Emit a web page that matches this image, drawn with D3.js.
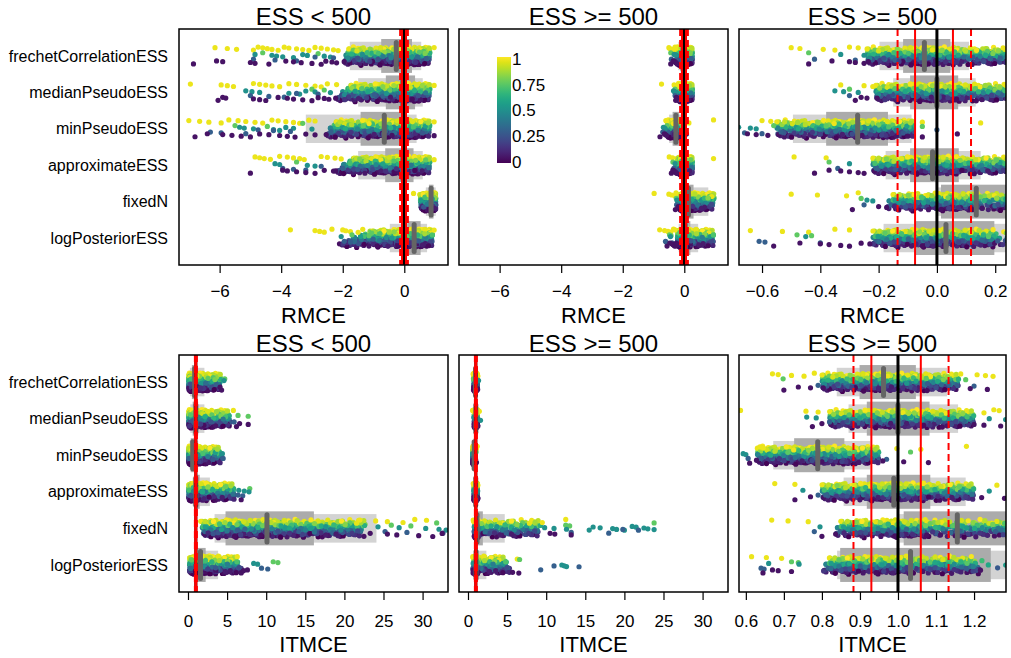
<!DOCTYPE html>
<html><head><meta charset="utf-8">
<script src="https://cdn.jsdelivr.net/npm/d3@7"></script>
<style>body{margin:0;background:#fff} text{font-family:"Liberation Sans",Arial,sans-serif}</style>
</head><body><svg id="c" width="1011" height="658"></svg>
<script>
const rowNames = ["frechetCorrelationESS","medianPseudoESS","minPseudoESS","approximateESS","fixedN","logPosteriorESS"];
// colour level of the sparse tail groups: yellow, green, teal, blue, purple
const tailLevels = [0.97, 0.75, 0.5, 0.3, 0.05];
const legendTicks = [0, 0.25, 0.5, 0.75, 1];

// ---------- RMCE, ESS < 500 ----------
const rmceLowQLo = [[-2.0,-0.9,-0.2,0.35,0.8],[-2.3,-1.0,-0.25,0.35,0.8],[-2.6,-1.3,-0.5,0.2,0.8],[-2.3,-1.1,-0.3,0.3,0.8],[0.55,0.8,0.9,0.96,1.02],[-2.2,-1.0,-0.2,0.4,0.9]];
const rmceLowQHi = [[-1.8,-0.85,-0.2,0.35,0.85],[-1.7,-0.8,-0.2,0.35,0.85],[-2.2,-1.2,-0.5,0.2,0.85],[-1.6,-0.8,-0.2,0.35,0.85],[0.5,0.75,0.88,0.95,1.02],[-1.0,-0.2,0.3,0.6,0.92]];
const rmceLowTails = [
 [[-6.15,-5.75,-5.45,-4.9,-4.75,-4.6,-4.45,-4.3,-4.1,-3.9,-3.75,-3.5,-3.3,-3.1,-2.9,-2.7,-2.5,-2.3,-2.15,0.97],[-4.6,-2.8],[-4.85,-4.3,-4.15,-3.95,-3.6,-3.3,-3.15,-2.6,-2.4],[-4.9,-4.2,-3.5,-2.9,-2.3],[-6.85,-6.1,-5.9,-5.0,-4.85,-4.4,-3.85,-3.6,-3.35,-3.0,-2.7,-2.55,-2.35,-2.2]],
 [[-6.95,-5.95,-5.75,-5.55,-4.9,-4.7,-4.5,-4.3,-4.05,-3.75,-3.5,-3.2,-2.9,-2.7,-2.5,-2.2,0.97],[-3.0,-2.6],[-5.15,-4.95,-4.7,-3.75,-3.4,-3.2,-2.9,-2.4],[-5.0,-4.4,-3.9,-3.5,-2.8],[-6.05,-5.9,-5.8,-4.9,-4.7,-4.5,-4.1,-3.8,-3.6,-3.3,-3.0,-2.8,-2.6,-2.45]],
 [[-7.0,-6.65,-6.35,-5.95,-5.7,-5.4,-5.15,-4.85,-4.6,-4.3,-4.1,-3.85,-3.6,-3.4,-3.1,-2.9,0.97],[-5.5,-4.45,-3.3],[-5.35,-5.2,-4.9,-4.25,-4.05,-3.85,-3.6,-3.0],[-6.3,-5.95,-5.15,-4.75,-4.25,-3.7],[-6.8,-6.4,-5.9,-5.6,-5.3,-5.0,-4.7,-4.4,-4.05,-3.8,-3.55,-3.2,-2.9,0.97]],
 [[-4.85,-4.7,-4.55,-4.35,-4.05,-3.8,-3.6,-3.4,-3.25,-2.7,-2.5,-2.25,-2.05,0.97],[-3.5],[-4.2,-4.05,-3.15,-2.9],[-3.95,-3.6,-3.2,-2.7],[-5.0,-3.95,-3.8,-3.5,-3.2,-2.9,-2.6,-2.3]],
 [[0.3],[],[],[],[]],
 [[-3.7,-2.9,-2.75,-2.6,-2.35,-2.0,-1.9,-1.75,-1.5,-1.35,0.97],[-1.7,-1.15],[-2.05],[-1.95,-1.75],[]]
];
const rmceLowMean = [-0.26,-0.05,-0.65,-0.05,0.87,0.32];
const rmceLowInner = [[-0.75,0.25],[-0.6,0.35],[-1.42,-0.06],[-0.62,0.3],[0.8,0.95],[0.1,0.53]];
const rmceLowOuter = [[-1.77,0.55],[-1.5,0.6],[-3.2,0.4],[-1.5,0.6],[0.7,1.02],[-0.47,0.74]];

// ---------- RMCE, ESS >= 500 ----------
const rmceHighQLo = [[-0.24,-0.1,-0.03,0.06,0.26],[-0.21,-0.07,0.0,0.08,0.26],[-0.55,-0.36,-0.27,-0.18,-0.08],[-0.22,-0.08,-0.01,0.07,0.26],[-0.18,0.0,0.12,0.35,0.9],[-0.22,-0.06,0.03,0.2,0.95]];
const rmceHighQHi = [[-0.24,-0.1,-0.03,0.06,0.26],[-0.21,-0.07,0.0,0.08,0.26],[-0.55,-0.36,-0.27,-0.18,-0.08],[-0.22,-0.08,-0.01,0.07,0.26],[-0.15,0.02,0.15,0.45,1.0],[-0.22,-0.06,0.03,0.2,0.95]];
const rmceHighTails = [
 [[-0.5,-0.47,-0.39,-0.35,-0.3,-0.27],[-0.44],[-0.33,-0.25],[-0.42,-0.28],[-0.44,-0.36,-0.3,-0.28,-0.25]],
 [[-0.74,-0.33,-0.25,-0.22],[-0.3],[-0.35,-0.32,-0.27],[-0.3],[-0.28,-0.26,-0.24]],
 [[-0.6,-0.57,-0.05,0.15,0.95],[-0.56,-0.05],[-0.68,-0.64,-0.62],[-0.7,-0.66,-0.6,0.0],[-0.79,-0.65,-0.62,-0.58,-0.1,-0.05,0.07]],
 [[-0.49,-0.38,0.95],[-0.37],[-0.3],[-0.34],[-0.42,-0.37,-0.33,-0.3,-0.27,-0.25]],
 [[-0.98,-0.5,-0.41,-0.31,-0.27],[-0.26],[-0.24,-0.22],[-0.25],[-0.29,-0.2]],
 [[-0.8,-0.64,-0.53,-0.44,-0.35,-0.3],[-0.48,-0.43],[-0.45],[-0.61,-0.59,-0.4],[-0.56,-0.47,-0.4,-0.37,-0.33,-0.3,-0.26,-0.23]]
];
const rmceHighMean = [-0.043,0.0,-0.272,-0.015,0.135,0.031];
const rmceHighInner = [[-0.116,0.046],[-0.092,0.073],[-0.38,-0.168],[-0.092,0.075],[0.014,0.3],[-0.075,0.197]];
const rmceHighOuter = [[-0.197,0.11],[-0.15,0.133],[-0.494,-0.087],[-0.176,0.15],[0.0,0.78],[-0.183,0.45]];

// ---------- ITMCE, ESS < 500 ----------
const itmceLowQLo = [[0.1,0.55,1.0,1.9,4.0],[0.1,0.6,1.1,2.2,5.5],[0.1,0.45,0.8,1.5,4.2],[0.1,0.7,1.2,2.4,6.0],[2.0,5.5,9.5,15,22],[0.2,1.2,2.2,3.6,7.0]];
const itmceLowQHi = [[0.1,0.6,1.0,1.9,4.3],[0.1,0.6,1.1,2.2,5.2],[0.1,0.45,0.8,1.5,4.0],[0.1,0.7,1.2,2.4,5.8],[1.6,5.5,10,16,23],[0.2,1.1,2.0,3.2,6.0]];
const itmceLowTails = [
 [[],[4.7],[4.6],[],[4.3,4.1]],
 [[5.8],[6.4,7.7],[],[5.9],[6.2,6.6,7.7]],
 [[],[],[4.4],[4.5],[]],
 [[],[7.9],[6.5,7.2,7.8],[6.4,7.0],[6.8]],
 [[22,24,25.5,27.5,29,30.5],[26,28.5,31.8],[24.3,27,30.4,32.1,33.0],[25.2,28,32.6],[22.5,23.3,25.5,26.7,29.5,31.3,32.5]],
 [[6.3],[10.9,11.5],[8.4,8.9],[9.4,10.2],[6.8,7.6,7.1]]
];
const itmceLowMean = [0.85,1.0,0.6,1.0,10.1,1.6];
const itmceLowInner = [[0.5,1.2],[0.6,1.3],[0.35,0.8],[0.8,1.5],[4.8,16.1],[1.07,2.26]];
const itmceLowOuter = [[0.25,2.1],[0.3,2.1],[0.2,1.3],[0.6,2.8],[3.4,24.1],[1.07,3.85]];

// ---------- ITMCE, ESS >= 500 ----------
const itmceHighQLo = [[0.8,0.9,0.96,1.04,1.16],[0.82,0.93,1.0,1.08,1.2],[0.63,0.72,0.79,0.86,0.95],[0.8,0.92,0.99,1.07,1.2],[0.83,0.98,1.08,1.3,9.0],[0.8,0.93,1.04,1.22,5.5]];
const itmceHighQHi = [[0.8,0.9,0.96,1.04,1.16],[0.82,0.93,1.0,1.08,1.2],[0.63,0.72,0.79,0.86,0.95],[0.8,0.92,0.99,1.07,1.2],[0.85,0.98,1.08,1.3,9.5],[0.82,0.93,1.03,1.2,4.6]];
const itmceHighTails = [
 [[0.67,0.685,0.72,0.753,0.78,1.165,1.208,1.23,1.25],[0.698,1.178],[1.35],[0.79,1.2],[0.7,0.738,0.77,1.19,1.235]],
 [[0.586,0.758,0.79,1.226,1.252,1.266,1.45],[],[0.76,0.785,1.24,1.283,1.6],[0.82],[0.775,0.8,1.2,1.226,1.27]],
 [[0.637,0.646,0.997,1.06,1.18],[1.033],[0.593,0.6,0.94],[0.606,0.97],[0.61,0.628,0.96,1.015,1.08]],
 [[0.676,0.729,1.26],[],[0.75,1.24],[0.79],[0.729,0.77,1.22,1.28]],
 [[0.668,0.711,0.764,9.5,12.5],[12.5,13,23.8],[0.795,9.8,11,12.6,15.5,16,16.9,18.5,19,20,21,21.5,22.5,23,23.8],[0.78,13.2,18,19.8,21.8],[0.8,10.5,11.1,13.2]],
 [[0.615,0.654,0.694,6.3],[0.72,0.738,6.6],[0.66,0.74,12.0,12.3,12.6],[0.64,0.648,9.3,11.0,14.2],[0.645,0.67,0.685,0.72,5.7,6.5]]
];
const itmceHighMean = [0.962,1.0,0.789,0.989,1.156,1.033];
const itmceHighInner = [[0.899,1.047],[0.918,1.083],[0.727,0.859],[0.918,1.085],[1.015,1.9],[0.848,1.244]];
const itmceHighOuter = [[0.839,1.129],[0.87,1.158],[0.672,0.927],[0.857,1.178],[1.0,4.7],[0.84,2.35]];

// reference lines
const refRmce = {black: 0, solid: [-0.075, 0.055], dashed: [-0.135, 0.117]};
const refItmce = {black: 1, solid: [0.93, 1.06], dashed: [0.883, 1.133]};

const ticksRmceWide = [-6,-4,-2,0];
const ticksRmceNarrow = [-0.6,-0.4,-0.2,0,0.2];
const ticksItmceWide = [0,5,10,15,20,25,30];
const ticksItmceNarrow = [0.6,0.7,0.8,0.9,1.0,1.1,1.2];

const rmceLow = {qlo: rmceLowQLo, qhi: rmceLowQHi, tails: rmceLowTails, mean: rmceLowMean, inner: rmceLowInner, outer: rmceLowOuter};
const rmceHigh = {qlo: rmceHighQLo, qhi: rmceHighQHi, tails: rmceHighTails, mean: rmceHighMean, inner: rmceHighInner, outer: rmceHighOuter};
const itmceLow = {qlo: itmceLowQLo, qhi: itmceLowQHi, tails: itmceLowTails, mean: itmceLowMean, inner: itmceLowInner, outer: itmceLowOuter};
const itmceHigh = {qlo: itmceHighQLo, qhi: itmceHighQHi, tails: itmceHighTails, mean: itmceHighMean, inner: itmceHighInner, outer: itmceHighOuter};

const panels = [
 {data: rmceLow, domain: [-7.32, 1.42], ticks: ticksRmceWide, fmt: "d", title: "ESS < 500", xlab: "RMCE", left: 179, right: 448, top: 29, bottom: 265, ref: refRmce, labels: true},
 {data: rmceHigh, domain: [-7.32, 1.42], ticks: ticksRmceWide, fmt: "d", title: "ESS >= 500", xlab: "RMCE", left: 459, right: 728, top: 29, bottom: 265, ref: refRmce, legend: true},
 {data: rmceHigh, domain: [-0.679, 0.237], ticks: ticksRmceNarrow, fmt: ".1f", title: "ESS >= 500", xlab: "RMCE", left: 739, right: 1006, top: 29, bottom: 265, ref: refRmce},
 {data: itmceLow, domain: [-1.15, 33.25], ticks: ticksItmceWide, fmt: "d", title: "ESS < 500", xlab: "ITMCE", left: 179, right: 448, top: 355, bottom: 592, ref: refItmce, labels: true},
 {data: itmceHigh, domain: [-1.15, 33.25], ticks: ticksItmceWide, fmt: "d", title: "ESS >= 500", xlab: "ITMCE", left: 459, right: 728, top: 355, bottom: 592, ref: refItmce},
 {data: itmceHigh, domain: [0.582, 1.284], ticks: ticksItmceNarrow, fmt: ".1f", title: "ESS >= 500", xlab: "ITMCE", left: 739, right: 1006, top: 355, bottom: 592, ref: refItmce}
];

const svg = d3.select("#c");
const N = 600;
const color = d3.interpolateViridis;
// Halton (van der Corput) low-discrepancy sequence for a deterministic layout
function halton(i, b) { let f = 1, r = 0; while (i > 0) { f /= b; r += f * (i % b); i = Math.floor(i / b); } return r; }

function rowPoints(d, r) {
  const qLo = d3.scaleLinear().domain([0, .25, .5, .75, 1]).range(d.qlo[r]);
  const qHi = d3.scaleLinear().domain([0, .25, .5, .75, 1]).range(d.qhi[r]);
  const pts = d3.range(N).map(i => {
    const u = halton(i + 1 + r * 37, 2);
    const v = halton(i + 1 + r * 37, 3);
    const j = halton(i + 1 + r * 37, 5) - 0.5;
    return {x: qLo(u) + (qHi(u) - qLo(u)) * v, v, j};
  });
  d.tails[r].forEach((xs, g) => xs.forEach((x, k) => {
    pts.push({x, v: tailLevels[g], j: halton(k + 1 + g * 7, 5) - 0.5});
  }));
  return pts;
}

panels.forEach((p, pi) => {
  const x = d3.scaleLinear().domain(p.domain).range([p.left, p.right]);
  const y = d3.scaleLinear().domain([0.26, 6.74]).range([p.bottom, p.top]);
  const unit = (p.bottom - p.top) / 6.48;
  const g = svg.append("g");
  const cid = "clip" + pi;
  svg.append("clipPath").attr("id", cid).append("rect")
    .attr("x", p.left).attr("y", p.top).attr("width", p.right - p.left).attr("height", p.bottom - p.top);
  const inner = g.append("g").attr("clip-path", `url(#${cid})`);
  const d = p.data;
  const rowY = r => y(6 - r);

  // bands
  rowNames.forEach((name, r) => {
    inner.append("rect").attr("x", x(d.outer[r][0])).attr("width", x(d.outer[r][1]) - x(d.outer[r][0]))
      .attr("y", rowY(r) - unit * 0.39).attr("height", unit * 0.78).attr("fill", "#d3d3d3");
  });
  rowNames.forEach((name, r) => {
    inner.append("rect").attr("x", x(d.inner[r][0])).attr("width", x(d.inner[r][1]) - x(d.inner[r][0]))
      .attr("y", rowY(r) - unit * 0.465).attr("height", unit * 0.93).attr("fill", "#ababab");
  });
  // points
  rowNames.forEach((name, r) => {
    const pts = rowPoints(d, r);
    inner.append("g").selectAll("circle").data(pts).join("circle")
      .attr("cx", q => x(q.x))
      .attr("cy", q => rowY(r) + (0.5 - q.v) * 15 + q.j * 4)
      .attr("r", 2.6)
      .attr("fill", q => color(q.v));
  });
  // means
  rowNames.forEach((name, r) => {
    inner.append("line").attr("x1", x(d.mean[r])).attr("x2", x(d.mean[r]))
      .attr("y1", rowY(r) - unit * 0.37).attr("y2", rowY(r) + unit * 0.37)
      .attr("stroke", "#646464").attr("stroke-width", 5).attr("stroke-linecap", "round");
  });
  // reference lines: black first, red on top
  inner.append("line").attr("x1", x(p.ref.black)).attr("x2", x(p.ref.black)).attr("y1", p.top).attr("y2", p.bottom)
    .attr("stroke", "#000").attr("stroke-width", 3);
  p.ref.dashed.forEach(v => inner.append("line").attr("x1", x(v)).attr("x2", x(v)).attr("y1", p.top).attr("y2", p.bottom)
    .attr("stroke", "#ff0000").attr("stroke-width", 2).attr("stroke-dasharray", "7,4"));
  p.ref.solid.forEach(v => inner.append("line").attr("x1", x(v)).attr("x2", x(v)).attr("y1", p.top).attr("y2", p.bottom)
    .attr("stroke", "#ff0000").attr("stroke-width", 2));

  // box
  g.append("rect").attr("x", p.left).attr("y", p.top).attr("width", p.right - p.left).attr("height", p.bottom - p.top)
    .attr("fill", "none").attr("stroke", "#000").attr("stroke-width", 1.5);

  // axis
  const ax = g.append("g").attr("transform", `translate(0,${p.bottom})`)
    .call(d3.axisBottom(x).tickValues(p.ticks).tickFormat(d3.format(p.fmt)).tickSize(8));
  ax.select(".domain").remove();
  ax.selectAll("line").attr("stroke", "#000").attr("stroke-width", 1.2);
  ax.selectAll("text").attr("y", p.top < 100 ? 32 : 35).attr("dy", null)
    .attr("font-size", 17).attr("font-family", "Liberation Sans, Arial, sans-serif").attr("fill", "#000");

  // titles
  g.append("text").attr("x", (p.left + p.right) / 2).attr("y", p.top < 100 ? 25 : 352).attr("text-anchor", "middle")
    .attr("font-size", 24).text(p.title);
  g.append("text").attr("x", (p.left + p.right) / 2).attr("y", p.top < 100 ? 323 : 652).attr("text-anchor", "middle")
    .attr("font-size", 22).text(p.xlab);

  if (p.labels) {
    rowNames.forEach((name, r) => {
      g.append("text").attr("x", 168).attr("y", rowY(r)).attr("dy", "0.35em").attr("text-anchor", "end")
        .attr("font-size", 16).text(name);
    });
  }

  if (p.legend) {
    const defs = svg.append("defs");
    const grad = defs.append("linearGradient").attr("id", "vir").attr("x1", 0).attr("y1", 1).attr("x2", 0).attr("y2", 0);
    d3.range(0, 1.0001, 0.05).forEach(t => grad.append("stop").attr("offset", t).attr("stop-color", color(t)));
    const ly = d3.scaleLinear().domain([0, 1]).range([162, 59]);
    g.append("rect").attr("x", 497).attr("y", 57).attr("width", 14).attr("height", 106).attr("fill", "url(#vir)");
    legendTicks.forEach(t => {
      g.append("text").attr("x", 512).attr("y", ly(t)).attr("dy", "0.35em").attr("font-size", 17)
        .text(d3.format("")(t));
    });
  }
});
</script></body></html>
